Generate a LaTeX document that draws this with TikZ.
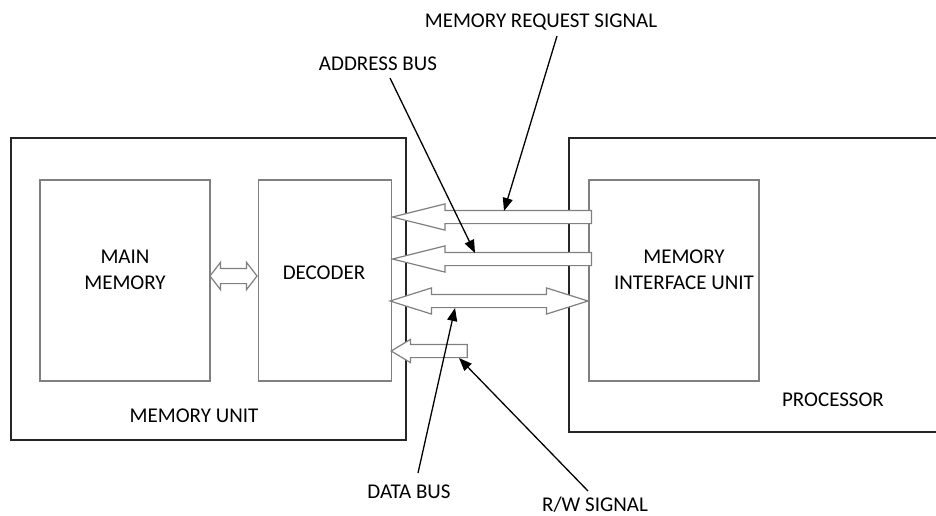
\documentclass[tikz,border=0pt]{standalone}
\usepackage{fontspec}
\setmainfont{Carlito}
\usetikzlibrary{shapes.arrows, arrows.meta, positioning}

\tikzset{
    unit/.style={rectangle, draw=black!85, line width=1.8pt, inner sep=0pt},
    block/.style={rectangle, draw=black!50, line width=1.4pt, inner sep=0pt, minimum width=170pt, minimum height=201pt},
    txt/.style={font=\fontsize{21}{26}\selectfont, align=center, inner sep=0pt, anchor=base},
    bus/.style={single arrow, draw=black!50, line width=1.2pt, fill=white, inner xsep=0pt, inner ysep=6pt, single arrow head extend=6.5pt, shape border rotate=180, anchor=tip},
    dbus/.style={double arrow, draw=black!50, line width=1.2pt, fill=white, inner xsep=0pt, inner ysep=6pt, double arrow head extend=6.5pt},
    callout/.style={-{Triangle[length=13pt, width=10pt]}, line width=1.3pt}
}

\begin{document}
\begin{tikzpicture}[x=1pt, y=-1pt]
    \useasboundingbox (0,0) rectangle (936,515);
    \clip (0,0) rectangle (936,515);

    % memory unit side
    \node (memunit) [unit, minimum width=395pt, minimum height=302pt] at (208.5,289) {};
    \node (mainmem) [block] at (125,280.5) {};
    \node (dec) [block, minimum width=133pt, right=47pt of mainmem] {};

    % processor side
    \node (proc) [unit, minimum width=400pt, minimum height=294pt] at (769,285) {};
    \node (mif) [block] at (674,280.5) {};

    % texts
    \node (mainlbl) [txt] at (125,289) {MAIN\\MEMORY};
    \node (declbl) [txt] at (324,279) {DECODER};
    \node (miflbl) [txt] at (684,289) {MEMORY\\INTERFACE UNIT};
    \node (unitlbl) [txt] at (194,422) {MEMORY UNIT};
    \node (proclbl) [txt] at (833,406) {PROCESSOR};

    \node (reqlbl) [txt] at (541,27) {MEMORY REQUEST SIGNAL};
    \node (addrlbl) [txt] at (378,70) {ADDRESS BUS};
    \node (datalbl) [txt] at (409,498) {DATA BUS};
    \node (rwlbl) [txt] at (595,511) {R/W SIGNAL};

    % buses
    \node (req) [bus, minimum height=199pt, single arrow tip angle=28] at (390,217) {};
    \node (addr) [bus, minimum height=199pt, single arrow tip angle=28] at (390,259) {};
    \node (data) [dbus, minimum height=198pt, double arrow tip angle=35] at (489,301) {};
    \node (rw) [bus, minimum height=76pt, single arrow head extend=5pt, single arrow tip angle=62] at (390,351) {};
    \node (link) [dbus, minimum height=47pt, inner ysep=7pt, double arrow head extend=6pt, double arrow tip angle=105] at (233.5,276) {};

    % callouts
    \coordinate (reqhit) at (504,211);
    \coordinate (addrhit) at (475,253);
    \coordinate (datahit) at (455,308);
    \coordinate (rwhit) at (459,358);

    \draw [callout] ([shift={(16pt,-9pt)}]reqlbl.base) -- (reqhit);
    \draw [callout] ([shift={(12pt,-8pt)}]addrlbl.base) -- (addrhit);
    \draw [callout] ([shift={(9pt,25pt)}]datalbl.base) -- (datahit);
    \draw [callout] ([shift={(-7pt,20pt)}]rwlbl.base) -- (rwhit);
\end{tikzpicture}
\end{document}
